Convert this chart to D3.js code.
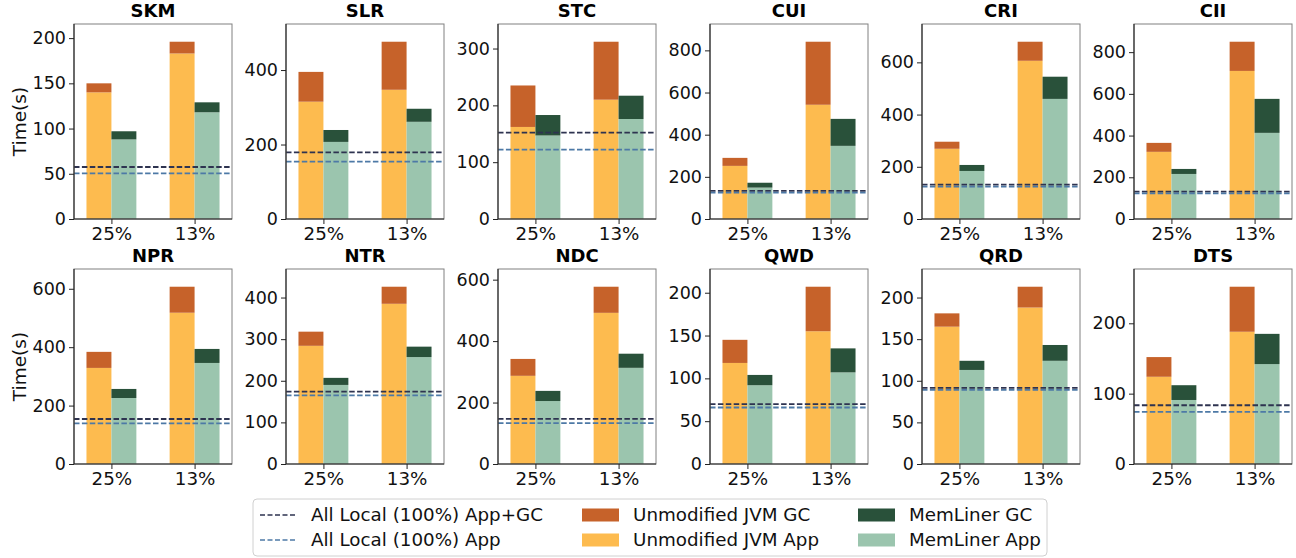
<!DOCTYPE html>
<html>
<head>
<meta charset="utf-8">
<script src="https://cdn.jsdelivr.net/npm/d3@7"></script>
<style>
  body { margin: 0; background: #fff; }
  svg { font-family: "DejaVu Sans", sans-serif; }
</style>
</head>
<body>
<div id="chart"></div>
<script>
// benchmarks and the two memory ratios
const benchmarks = ["SKM", "SLR", "STC", "CUI", "CRI", "CII", "NPR", "NTR", "NDC", "QWD", "QRD", "DTS"];
const ratios = ["25%", "13%"];

// seconds, [25%, 13%] per benchmark
const unmodApp = [[140, 183], [315, 347], [162, 210], [252, 542], [269, 606], [322, 710],
                  [329, 518], [284, 385], [287, 492], [118, 155], [165, 188], [124, 188]];
const unmodGC = [[10, 13], [80, 129], [73, 102], [38, 299], [27, 73], [43, 140],
                 [55, 89], [34, 41], [55, 85], [27, 52], [16, 25], [28, 64]];
const memApp = [[88, 118], [207, 261], [147, 176], [149, 347], [184, 460], [216, 413],
                [226, 346], [190, 257], [205, 313], [92, 107], [113, 124], [91, 142]];
const memGC = [[9, 11], [32, 35], [36, 41], [23, 128], [23, 85], [24, 163],
               [31, 48], [17, 25], [33, 46], [12, 28], [11, 19], [21, 43]];

// all local (100%) reference lines
const localAppGC = [57.5, 179, 152, 133, 132, 131, 154, 174, 147, 70, 91.5, 83.5];
const localApp = [50.5, 154, 122, 125, 124, 123, 139, 165, 133, 66, 89, 74];

// y tick labels per panel
const yTicks = [[0, 50, 100, 150, 200], [0, 200, 400], [0, 100, 200, 300], [0, 200, 400, 600, 800],
                [0, 200, 400, 600], [0, 200, 400, 600, 800], [0, 200, 400, 600], [0, 100, 200, 300, 400],
                [0, 200, 400, 600], [0, 50, 100, 150, 200], [0, 50, 100, 150, 200], [0, 100, 200]];

const colors = {
    uGC: "#c6622a", uApp: "#fdbb4f", mGC: "#29513a", mApp: "#9bc5ae",
    lineAll: "#2e3350", lineApp: "#4d79a6"
};

const svg = d3.select("#chart").append("svg")
    .attr("width", 1296)
    .attr("height", 558);

const pw = 158, ph = 195;
const barW = 0.3;

benchmarks.forEach(function(name, i) {
    const col = i % 6, row = Math.floor(i / 6);
    const left = 74 + col * 212;
    const top = row === 0 ? 24 : 269;

    const g = svg.append("g").attr("transform", "translate(" + left + "," + top + ")");

    const totals = [0, 1].map(j => Math.max(unmodApp[i][j] + unmodGC[i][j], memApp[i][j] + memGC[i][j]));
    const ymax = d3.max(totals) * 1.1;

    const x = d3.scaleLinear().domain([-0.45, 1.45]).range([0, pw]);
    const y = d3.scaleLinear().domain([0, ymax]).range([ph, 0]);

    // stacked bars
    const bars = [];
    [0, 1].forEach(function(j) {
        bars.push({x0: j - barW, y0: 0, y1: unmodApp[i][j], c: colors.uApp});
        bars.push({x0: j - barW, y0: unmodApp[i][j], y1: unmodApp[i][j] + unmodGC[i][j], c: colors.uGC});
        bars.push({x0: j, y0: 0, y1: memApp[i][j], c: colors.mApp});
        bars.push({x0: j, y0: memApp[i][j], y1: memApp[i][j] + memGC[i][j], c: colors.mGC});
    });

    g.selectAll(".bar")
        .data(bars)
        .enter()
        .append("rect")
        .attr("class", "bar")
        .attr("x", d => x(d.x0))
        .attr("width", d => x(d.x0 + barW) - x(d.x0))
        .attr("y", d => y(d.y1))
        .attr("height", d => y(d.y0) - y(d.y1))
        .style("fill", d => d.c);

    // reference lines
    [[localAppGC[i], colors.lineAll], [localApp[i], colors.lineApp]].forEach(function(l) {
        g.append("line")
            .attr("x1", 0).attr("x2", pw)
            .attr("y1", y(l[0])).attr("y2", y(l[0]))
            .attr("stroke", l[1])
            .attr("stroke-width", 1.8)
            .attr("stroke-dasharray", "5.5,2.4");
    });

    // frame
    g.append("rect")
        .attr("width", pw).attr("height", ph)
        .attr("fill", "none")
        .attr("stroke", "#808080")
        .attr("stroke-width", 1);

    const yAxis = g.append("g")
        .call(d3.axisLeft(y).tickValues(yTicks[i]).tickSize(5).tickPadding(3));
    const xAxis = g.append("g")
        .attr("transform", "translate(0," + ph + ")")
        .call(d3.axisBottom(x).tickValues([0, 1]).tickFormat((d, k) => ratios[k]).tickSize(5).tickPadding(3));

    [yAxis, xAxis].forEach(function(a) {
        a.select(".domain").attr("stroke", "#222").attr("stroke-width", 1.1);
        a.selectAll(".tick line").attr("stroke", "#222");
        a.selectAll(".tick text")
            .style("font-family", "DejaVu Sans")
            .style("fill", "#111");
    });
    yAxis.selectAll(".tick text").style("font-size", "17.5px");
    xAxis.selectAll(".tick text").style("font-size", "18.3px");
    xAxis.select(".domain").attr("d", "M0,0H" + pw);
    yAxis.select(".domain").attr("d", "M0," + ph + "V0");

    // title
    g.append("text")
        .attr("x", pw / 2)
        .attr("y", -7)
        .style("text-anchor", "middle")
        .style("font-size", "18px")
        .style("font-weight", "bold")
        .text(name);

    if (col === 0) {
        g.append("text")
            .attr("transform", "rotate(-90)")
            .attr("x", -ph / 2)
            .attr("y", -48)
            .style("text-anchor", "middle")
            .style("font-size", "18.5px")
            .style("fill", "#111")
            .text("Time(s)");
    }
});

// legend
const legend = svg.append("g").attr("transform", "translate(253,499)");
legend.append("rect")
    .attr("width", 794).attr("height", 57)
    .attr("rx", 4)
    .attr("fill", "#fff")
    .attr("stroke", "#d0d0d0");

const legendItems = [
    {label: "All Local (100%) App+GC", type: "line", c: colors.lineAll, x: 7, y: 16},
    {label: "All Local (100%) App", type: "line", c: colors.lineApp, x: 7, y: 41},
    {label: "Unmodified JVM GC", type: "rect", c: colors.uGC, x: 329, y: 16},
    {label: "Unmodified JVM App", type: "rect", c: colors.uApp, x: 329, y: 41},
    {label: "MemLiner GC", type: "rect", c: colors.mGC, x: 605, y: 16},
    {label: "MemLiner App", type: "rect", c: colors.mApp, x: 605, y: 41}
];

legendItems.forEach(function(d) {
    if (d.type === "line") {
        legend.append("line")
            .attr("x1", d.x).attr("x2", d.x + 37)
            .attr("y1", d.y).attr("y2", d.y)
            .attr("stroke", d.c)
            .attr("stroke-width", 1.5)
            .attr("stroke-dasharray", "5,2.5");
    } else {
        legend.append("rect")
            .attr("x", d.x).attr("y", d.y - 6.5)
            .attr("width", 37).attr("height", 13)
            .attr("fill", d.c);
    }
    legend.append("text")
        .attr("x", d.x + 51)
        .attr("y", d.y)
        .attr("dy", "0.35em")
        .style("font-size", "18.3px")
        .style("fill", "#111")
        .text(d.label);
});
</script>
</body>
</html>
